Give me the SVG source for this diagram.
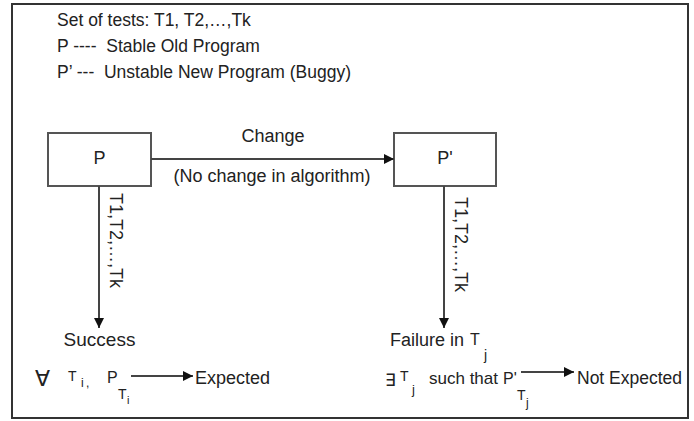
<svg xmlns="http://www.w3.org/2000/svg" width="694" height="421" viewBox="0 0 694 421">
<style>
text{font-family:"Liberation Sans",Arial,sans-serif;fill:#222;}
.t18{font-size:18px;}
.t17{font-size:17px;}
.top{font-size:17.5px;}
.box{fill:#fff;stroke:#555;stroke-width:2;}
.ln{stroke:#444;stroke-width:2;fill:none;}
.sym{font-family:"DejaVu Sans","Liberation Sans",sans-serif;}
</style>
<defs>
<marker id="ah" viewBox="0 0 10 10" refX="10" refY="5" markerWidth="10" markerHeight="10" markerUnits="userSpaceOnUse" orient="auto">
<path d="M0,0 L10,5 L0,10 z" fill="#111"/>
</marker>
</defs>
<rect x="12" y="4" width="676" height="414" fill="#fff" stroke="#333" stroke-width="2"/>
<g id="legend">
<text class="top" x="57" y="26">Set of tests: T1, T2,…,Tk</text>
<text class="top" x="57" y="52" xml:space="preserve">P ----  Stable Old Program</text>
<text class="top" x="57" y="78" xml:space="preserve">P’ ---  Unstable New Program (Buggy)</text>
</g>
<g id="nodeP">
<rect class="box" x="48" y="133" width="103" height="53"/>
<text class="t18" x="99.5" y="164" text-anchor="middle">P</text>
</g>
<g id="nodePprime">
<rect class="box" x="394" y="133" width="102" height="53"/>
<text class="t18" x="445" y="164" text-anchor="middle">P'</text>
</g>
<g id="connectors">
<line class="ln" x1="151" y1="159" x2="394" y2="159" marker-end="url(#ah)"/>
<text class="t18" x="273" y="142" text-anchor="middle">Change</text>
<text class="t18" x="272" y="182" text-anchor="middle">(No change in algorithm)</text>
<line class="ln" x1="99" y1="186" x2="99" y2="328" marker-end="url(#ah)"/>
<text class="t18" x="110" y="193" transform="rotate(90 110 193)">T1,T2,…,Tk</text>
<line class="ln" x1="444" y1="186" x2="444" y2="328" marker-end="url(#ah)"/>
<text class="t18" x="455" y="197" transform="rotate(90 455 197)">T1,T2,…,Tk</text>
</g>
<g id="success">
<text x="99.5" y="346" font-size="19" text-anchor="middle">Success</text>
<text class="sym" x="35" y="386" font-size="22">∀</text>
<text x="68" y="381" font-size="14">T</text>
<text x="81" y="387" font-size="12">i</text>
<text x="86" y="387" font-size="12" fill="#3355aa">,</text>
<text x="107" y="383" font-size="16">P</text>
<text x="118" y="399" font-size="14">T</text>
<text x="127" y="404" font-size="11">i</text>
<line class="ln" x1="131" y1="376" x2="193" y2="376" marker-end="url(#ah)"/>
<text class="t18" x="195" y="384">Expected</text>
</g>
<g id="failure">
<text class="t18" x="390" y="346">Failure in</text>
<text x="470" y="345" font-size="16">T</text>
<text x="484" y="360" font-size="14">j</text>
<text class="sym" x="385" y="386" font-size="17">∃</text>
<text x="400" y="381" font-size="14">T</text>
<text x="412" y="394" font-size="13">j</text>
<text class="t17" x="429" y="384">such that</text>
<text x="503" y="384" font-size="16">P'</text>
<text x="517" y="400" font-size="14">T</text>
<text x="526" y="407" font-size="12">j</text>
<line class="ln" x1="521" y1="372" x2="574" y2="372" marker-end="url(#ah)"/>
<text x="577" y="384" font-size="17.5">Not Expected</text>
</g>
</svg>
